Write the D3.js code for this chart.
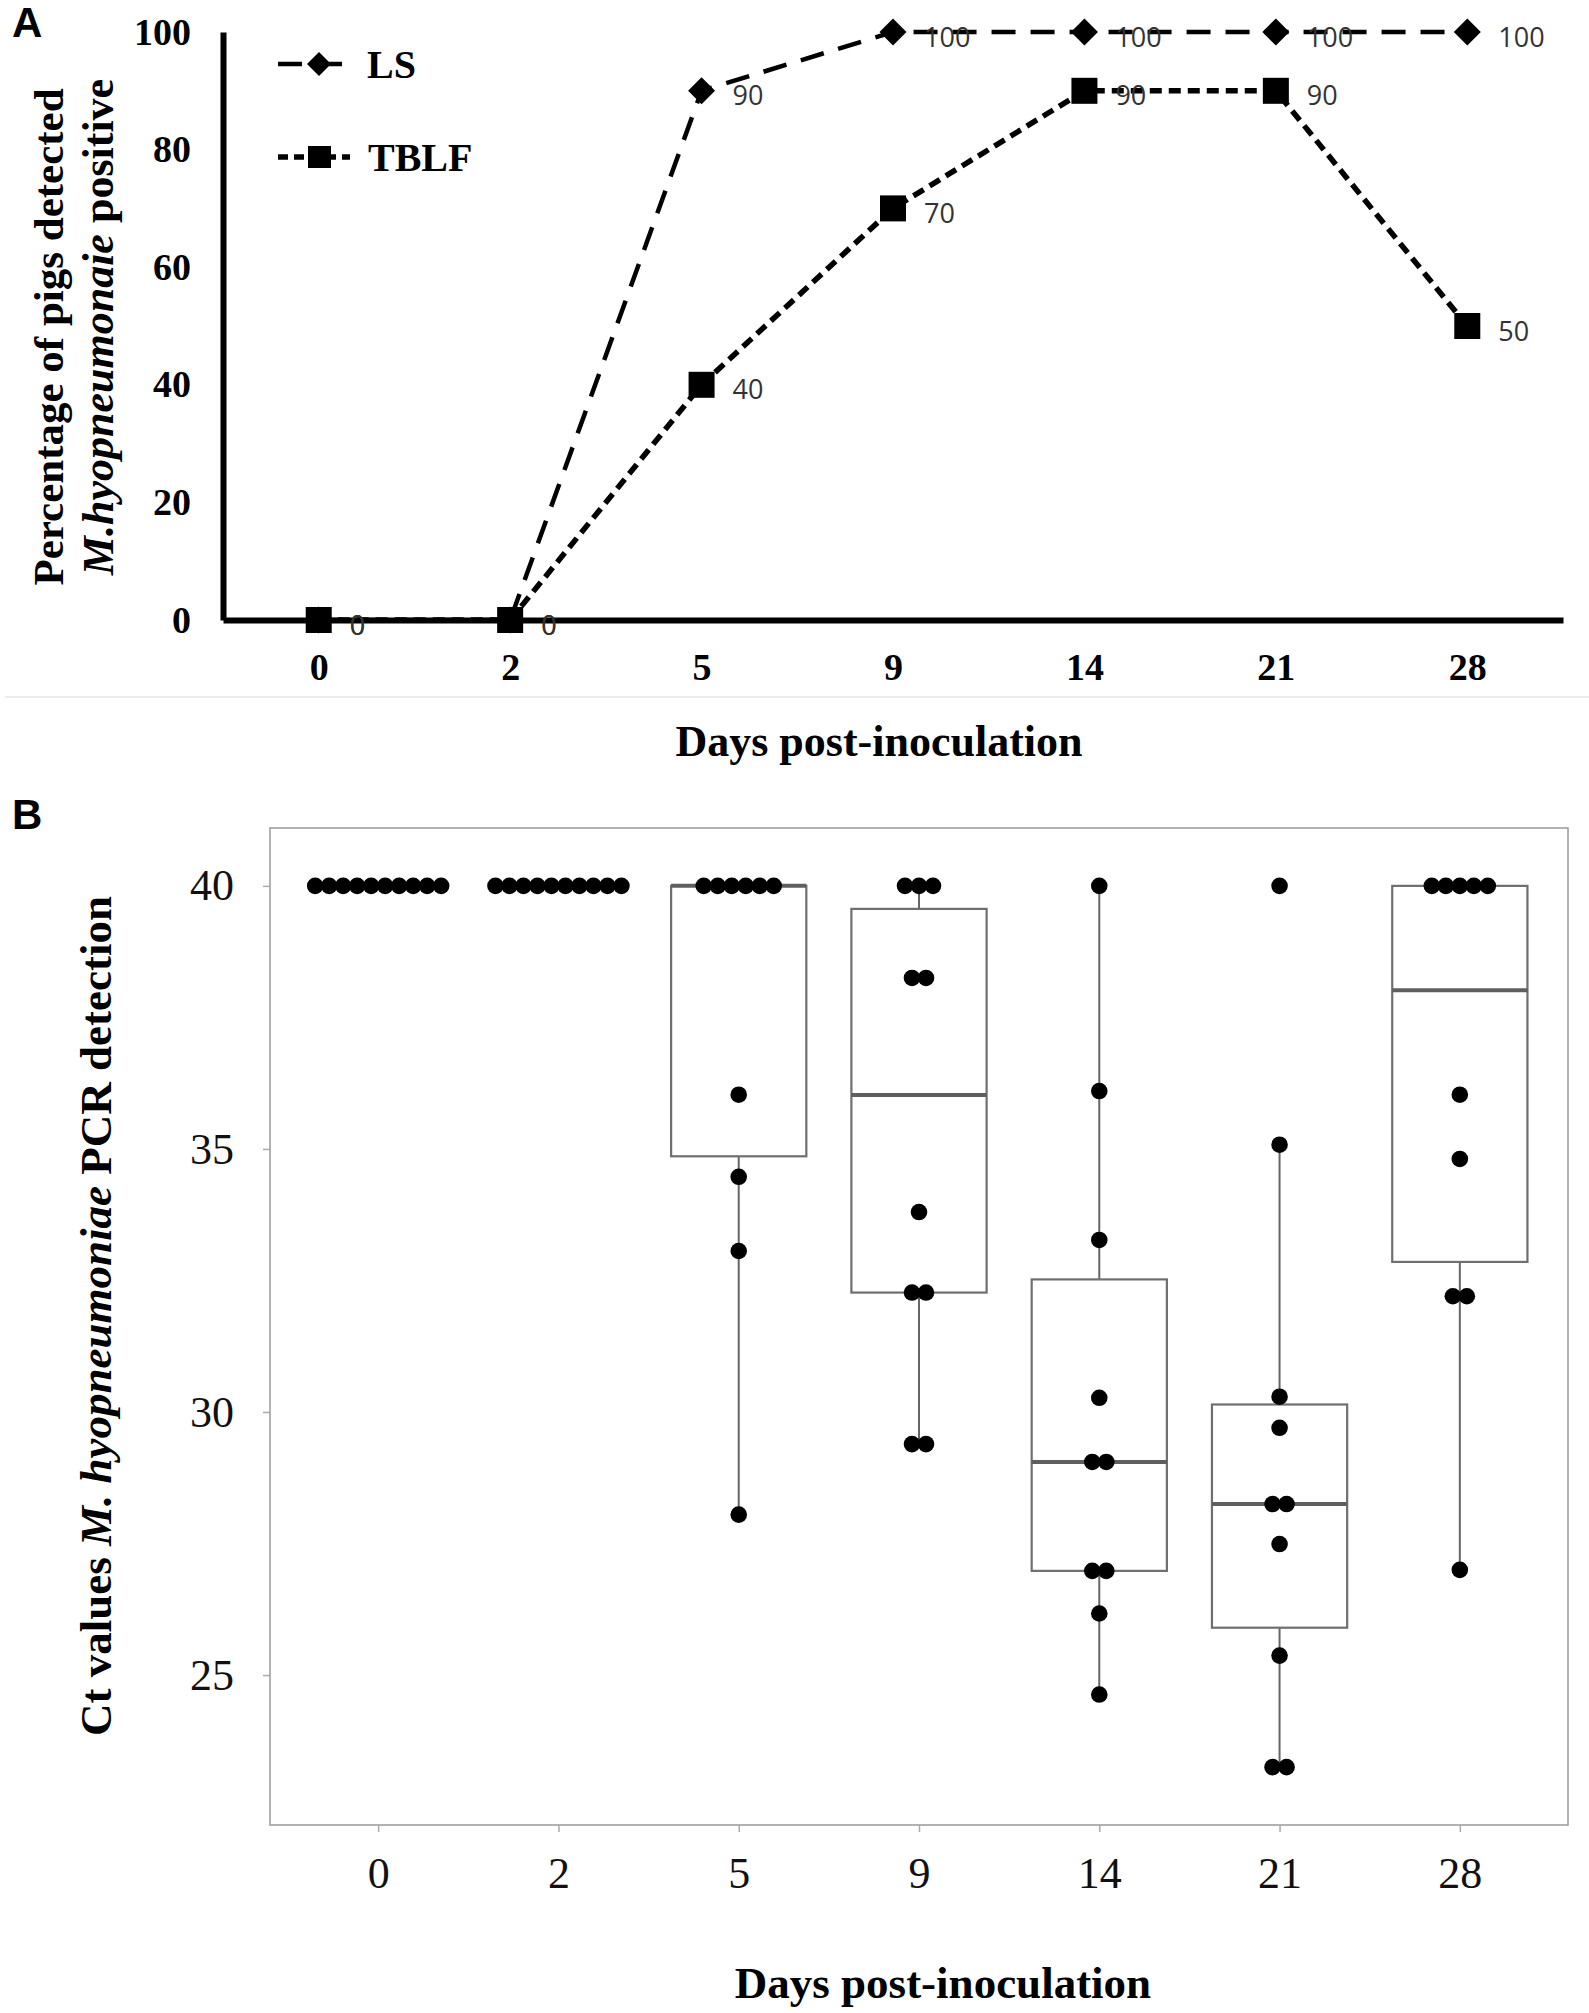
<!DOCTYPE html>
<html><head><meta charset="utf-8">
<script src="https://cdn.jsdelivr.net/npm/d3@7"></script>
<style>body{margin:0;background:#fff} svg{display:block}</style>
</head><body>
<svg id="chart" width="1589" height="2013"></svg>
<script>
// ---------- DATA ----------
const days = ["0", "2", "5", "9", "14", "21", "28"];
const lsValues = [0, 0, 90, 100, 100, 100, 100];
const tblfValues = [0, 0, 40, 70, 90, 90, 50];
const pctTicks = [0, 20, 40, 60, 80, 100];
const ctTicks = [25, 30, 35, 40];
const ctDay0 = [40, 40, 40, 40, 40, 40, 40, 40, 40, 40];
const ctDay2 = [40, 40, 40, 40, 40, 40, 40, 40, 40, 40];
const ctDay5 = [40, 40, 40, 40, 40, 40, 36.03, 34.47, 33.06, 28.05];
const ctDay9 = [40, 40, 40, 38.25, 38.25, 33.8, 32.27, 32.27, 29.39, 29.39];
const ctDay14 = [40, 36.1, 33.27, 30.27, 29.05, 29.05, 26.98, 26.98, 26.17, 24.63];
const ctDay21 = [40, 35.08, 30.29, 29.7, 28.25, 28.25, 27.49, 25.37, 23.25, 23.25];
const ctDay28 = [40, 40, 40, 40, 40, 36.03, 34.81, 32.2, 32.2, 27.0];
const ctByDay = [ctDay0, ctDay2, ctDay5, ctDay9, ctDay14, ctDay21, ctDay28];

const serif = '"Liberation Serif","Times New Roman",serif';
const sans = '"Liberation Sans",Arial,sans-serif';
const svg = d3.select("#chart");

// ================= PANEL A =================
const xA = d3.scalePoint().domain(days).range([223, 1563]).padding(0.5);
const yA = d3.scaleLinear().domain([0, 100]).range([620, 32]);

svg.append("text").attr("x", 12).attr("y", 37).text("A")
  .attr("font-family", sans).attr("font-weight", "bold").attr("font-size", 42);

const axA_y = svg.append("g").attr("transform", "translate(223,0)")
  .call(d3.axisLeft(yA).tickValues(pctTicks).tickSize(0).tickPadding(32).tickSizeOuter(0));
axA_y.select(".domain").attr("stroke", "#000").attr("stroke-width", 6);
axA_y.selectAll("text").attr("font-family", serif).attr("font-weight", "bold")
  .attr("font-size", 38).attr("fill", "#000");

const axA_x = svg.append("g").attr("transform", "translate(0,620)")
  .call(d3.axisBottom(xA).tickSize(0).tickPadding(33).tickSizeOuter(0));
axA_x.select(".domain").attr("stroke", "#000").attr("stroke-width", 6);
axA_x.selectAll("text").attr("font-family", serif).attr("font-weight", "bold")
  .attr("font-size", 38).attr("fill", "#000");

// Y axis title (two lines)
const yTitleA = svg.append("text").attr("transform", "translate(48,337) rotate(-90)")
  .attr("text-anchor", "middle").attr("dominant-baseline", "central")
  .attr("font-family", serif).attr("font-weight", "bold").attr("font-size", 43);
yTitleA.text("Percentage of pigs detected");
const yTitle2A = svg.append("text").attr("transform", "translate(98,327) rotate(-90)")
  .attr("text-anchor", "middle").attr("dominant-baseline", "central")
  .attr("font-family", serif).attr("font-weight", "bold").attr("font-size", 44);
yTitle2A.append("tspan").attr("font-style", "italic").text("M.hyopneumonaie");
yTitle2A.append("tspan").text(" positive");

svg.append("text").attr("x", 879).attr("y", 756).attr("text-anchor", "middle")
  .attr("font-family", serif).attr("font-weight", "bold").attr("font-size", 44)
  .text("Days post-inoculation");

// separator
svg.append("line").attr("x1", 5).attr("x2", 1589).attr("y1", 697).attr("y2", 697)
  .attr("stroke", "#ececec").attr("stroke-width", 2);

const diamond = s => `M0,${-s}L${s},0L0,${s}L${-s},0Z`;
const lineA = d3.line().x((d, i) => xA(days[i])).y(d => yA(d));

// LS series
svg.append("path").datum(lsValues).attr("d", lineA).attr("fill", "none")
  .attr("stroke", "#000").attr("stroke-width", 4.5).attr("stroke-dasharray", "24,15");
svg.append("g").selectAll("path").data(lsValues).join("path")
  .attr("transform", (d, i) => `translate(${xA(days[i])},${yA(d)})`)
  .attr("d", diamond(13.5)).attr("fill", "#000");

// TBLF series
svg.append("path").datum(tblfValues).attr("d", lineA).attr("fill", "none")
  .attr("stroke", "#000").attr("stroke-width", 5.5).attr("stroke-dasharray", "12,7");
svg.append("g").selectAll("rect").data(tblfValues).join("rect")
  .attr("x", (d, i) => xA(days[i]) - 13).attr("y", d => yA(d) - 13)
  .attr("width", 26).attr("height", 26).attr("fill", "#000");

// data labels
const labelG = svg.append("g").attr("font-family", '"Open Sans","Noto Sans",sans-serif')
  .attr("font-size", 27).attr("fill", "#333");
[lsValues, tblfValues].forEach(vals => {
  labelG.selectAll(null).data(vals).join("text")
    .attr("x", (d, i) => xA(days[i]) + 31).attr("y", d => yA(d) + 4)
    .attr("dominant-baseline", "central").text(d => d);
});

// legend
const leg = svg.append("g");
leg.append("line").attr("x1", 278).attr("x2", 342).attr("y1", 64).attr("y2", 64)
  .attr("stroke", "#000").attr("stroke-width", 4.5).attr("stroke-dasharray", "24,16");
leg.append("path").attr("transform", "translate(319,64)").attr("d", diamond(12)).attr("fill", "#000");
leg.append("text").attr("x", 367).attr("y", 64).attr("dominant-baseline", "central")
  .attr("font-family", serif).attr("font-weight", "bold").attr("font-size", 40).text("LS");
leg.append("line").attr("x1", 278).attr("x2", 350).attr("y1", 157).attr("y2", 157)
  .attr("stroke", "#000").attr("stroke-width", 5.5).attr("stroke-dasharray", "10,6");
leg.append("rect").attr("x", 308).attr("y", 146).attr("width", 23).attr("height", 22).attr("fill", "#000");
leg.append("text").attr("x", 368).attr("y", 157).attr("dominant-baseline", "central")
  .attr("font-family", serif).attr("font-weight", "bold").attr("font-size", 40).text("TBLF");

// ================= PANEL B =================
const xB = d3.scalePoint().domain(days).range([270, 1568]).padding(0.6);
const yB = d3.scaleLinear().domain([22.15, 41.1]).range([1825, 828]);

svg.append("text").attr("x", 12).attr("y", 829).text("B")
  .attr("font-family", sans).attr("font-weight", "bold").attr("font-size", 42);

svg.append("rect").attr("x", 270).attr("y", 828).attr("width", 1298).attr("height", 997)
  .attr("fill", "#fff").attr("stroke", "#999").attr("stroke-width", 1.5);

const axB_y = svg.append("g").attr("transform", "translate(270,0)")
  .call(d3.axisLeft(yB).tickValues(ctTicks).tickSize(7).tickPadding(29));
axB_y.select(".domain").remove();
axB_y.selectAll("line").attr("stroke", "#aaa").attr("stroke-width", 1.5);
axB_y.selectAll("text").attr("font-family", serif).attr("font-size", 44).attr("fill", "#111");

const axB_x = svg.append("g").attr("transform", "translate(0,1825)")
  .call(d3.axisBottom(xB).tickSize(7).tickPadding(25));
axB_x.select(".domain").remove();
axB_x.selectAll("line").attr("stroke", "#aaa").attr("stroke-width", 1.5);
axB_x.selectAll("text").attr("font-family", serif).attr("font-size", 44).attr("fill", "#111");

// boxplots
const boxW = xB.step() * 0.75;
const boxG = svg.append("g");
ctByDay.forEach((vals, i) => {
  const s = vals.slice().sort(d3.ascending);
  const q1 = d3.quantile(s, 0.25), med = d3.quantile(s, 0.5), q3 = d3.quantile(s, 0.75);
  const iqr = q3 - q1;
  const lo = d3.min(s.filter(v => v >= q1 - 1.5 * iqr));
  const hi = d3.max(s.filter(v => v <= q3 + 1.5 * iqr));
  const cx = xB(days[i]);
  const g = boxG.append("g");
  g.append("line").attr("x1", cx).attr("x2", cx).attr("y1", yB(hi)).attr("y2", yB(q3))
    .attr("stroke", "#666").attr("stroke-width", 2);
  g.append("line").attr("x1", cx).attr("x2", cx).attr("y1", yB(q1)).attr("y2", yB(lo))
    .attr("stroke", "#666").attr("stroke-width", 2);
  g.append("rect").attr("x", cx - boxW / 2).attr("y", yB(q3)).attr("width", boxW)
    .attr("height", Math.max(0, yB(q1) - yB(q3))).attr("fill", "#fff")
    .attr("stroke", "#6f6f6f").attr("stroke-width", 2.2);
  g.append("line").attr("x1", cx - boxW / 2).attr("x2", cx + boxW / 2)
    .attr("y1", yB(med)).attr("y2", yB(med)).attr("stroke", "#5f5f5f").attr("stroke-width", 4);
});

// dot plots (centered stacks)
const dotG = svg.append("g");
const spacing = 14;
ctByDay.forEach((vals, i) => {
  const groups = d3.groups(vals, v => v);
  groups.forEach(([v, arr]) => {
    arr.forEach((d, j) => {
      dotG.append("circle")
        .attr("cx", xB(days[i]) + (j - (arr.length - 1) / 2) * spacing)
        .attr("cy", yB(v)).attr("r", 8.3).attr("fill", "#000");
    });
  });
});

// axis titles B
svg.append("text").attr("x", 943).attr("y", 1998).attr("text-anchor", "middle")
  .attr("font-family", serif).attr("font-weight", "bold").attr("font-size", 45)
  .text("Days post-inoculation");
const yTitleB = svg.append("text").attr("transform", "translate(96,1316) rotate(-90)")
  .attr("text-anchor", "middle").attr("dominant-baseline", "central")
  .attr("font-family", serif).attr("font-weight", "bold").attr("font-size", 45);
yTitleB.append("tspan").text("Ct values ");
yTitleB.append("tspan").attr("font-style", "italic").text("M. hyopneumoniae");
yTitleB.append("tspan").text(" PCR detection");
</script>
</body></html>
